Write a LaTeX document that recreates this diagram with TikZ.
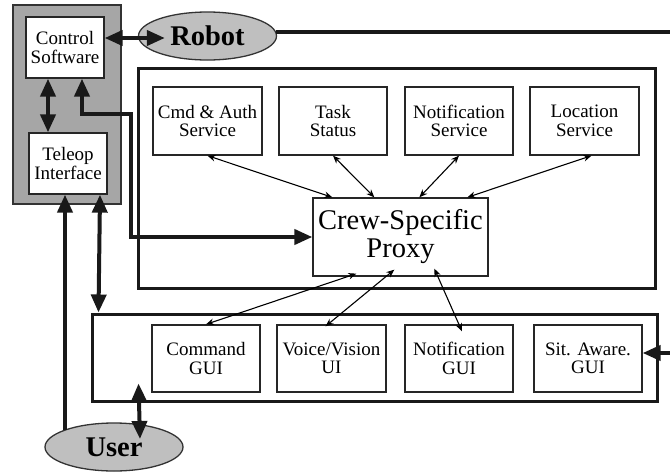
\documentclass[tikz,border=0pt]{standalone}
\usepackage{fontspec}
\setmainfont{Liberation Serif}
\usetikzlibrary{arrows.meta,calc,shapes.geometric}
\begin{document}
\begin{tikzpicture}[x=1pt,y=-1pt,
  box/.style={draw=black!85,line width=1.3pt,fill=white,inner sep=0pt,align=center,
    font=\fontsize{19}{18.5}\selectfont},
  frame/.style={draw=black!90,line width=3pt,inner sep=0pt},
  blob/.style={ellipse,draw=black!80,line width=1.3pt,fill=black!25,inner sep=0pt,
    minimum width=138pt,minimum height=48pt,font=\fontsize{28.5}{28}\selectfont\bfseries},
  link/.style={line width=1.1pt,>={Stealth[length=8pt,width=6.5pt]}},
  bus/.style={line width=4pt,black!90,>={Triangle[length=18pt,width=15pt]}}
]
\useasboundingbox (0,0) rectangle (670,472);

% operator station panel
\node[draw=black!80,line width=1.5pt,fill=black!35,minimum width=108pt,minimum height=199pt,inner sep=0pt] (panel) at (67,104.5) {};
\node[box,minimum width=78pt,minimum height=61pt] (cs) at (65,47.5) {Control\\Software};
\node[box,minimum width=78pt,minimum height=61pt] (teleop) at (68,163.5) {Teleop\\Interface};

% endpoints
\node[blob] (robot) at (207.5,36) {Robot};
\node[blob] (user) at (114,447) {User};

% service layer
\node[frame,minimum width=517pt,minimum height=220pt] (services) at (396.5,178) {};
\node[box,minimum width=109pt,minimum height=68pt] (cmd) at (207.5,121) {Cmd \& Auth\\Service};
\node[box,minimum width=108pt,minimum height=68pt] (task) at (333,121) {Task\\Status};
\node[box,minimum width=108pt,minimum height=68pt] (notif) at (459,121) {Notification\\Service};
\node[box,minimum width=109pt,minimum height=68pt] (loc) at (584.5,121) {Location\\Service};
\node[box,minimum width=175pt,minimum height=78pt,font=\fontsize{28.5}{28}\selectfont] (proxy) at (400.5,237) {Crew-Specific\\Proxy};

% interface layer
\node[frame,minimum width=565pt,minimum height=87pt] (gui) at (374.5,357.5) {};
\node[box,minimum width=108pt,minimum height=67pt] (cgui) at (206,358.5) {Command\\GUI};
\node[box,minimum width=109pt,minimum height=67pt] (vgui) at (331.5,358.5) {Voice/Vision\\UI};
\node[box,minimum width=108pt,minimum height=67pt] (ngui) at (459,358.5) {Notification\\GUI};
\node[box,minimum width=108pt,minimum height=67pt] (sgui) at (588,358.5) {Sit. Aware.\\GUI};

% free ends at the right margin
\coordinate (robotout) at (670,32);
\coordinate (sain) at (670,353);

% heavy connectors
\draw[bus,<->] ($(cs.east)+(0,-9.5)$) -- ($(robot.west)+(27,2)$);
\draw[bus] ($(robot.east)+(-1,-4)$) -- (robotout);
\draw[bus,<->] ($(cs.south)+(-17,0)$) -- ($(teleop.north)+(-20,0)$);
\draw[bus,<->] ($(cs.south)+(17,0)$) |- ($(services.north west)+(-6,47)$) |- (proxy.west);
\draw[bus,->] ($(user.center)+(-49,-17)$) -- ($(teleop.south)+(-3,0)$);
\draw[bus,<->] ($(teleop.south)+(32,0)$) -- ($(gui.north west)+(8,0)$);
\draw[bus,<->] ($(gui.south west)+(48,-19)$) -- ($(user.center)+(26,-8)$);
\draw[bus,->] (sain) -- (sain -| sgui.east);

% service links
\draw[link,<->] (cmd.south) -- ($(proxy.north west)+(20,0)$);
\draw[link,<->] (task.south) -- ($(proxy.north west)+(62,0)$);
\draw[link,<->] (notif.south) -- ($(proxy.north west)+(107,0)$);
\draw[link,<->] ($(loc.south)+(7,0)$) -- ($(proxy.north west)+(155,0)$);

% interface links
\draw[link,<->] ($(proxy.south west)+(44,-3)$) -- (cgui.north);
\draw[link,<->] ($(proxy.south west)+(82,-7)$) -- ($(vgui.north)+(-6,2)$);
\draw[link,<->] ($(proxy.south west)+(122,-8)$) -- ($(ngui.north)+(3,7)$);
\end{tikzpicture}
\end{document}
